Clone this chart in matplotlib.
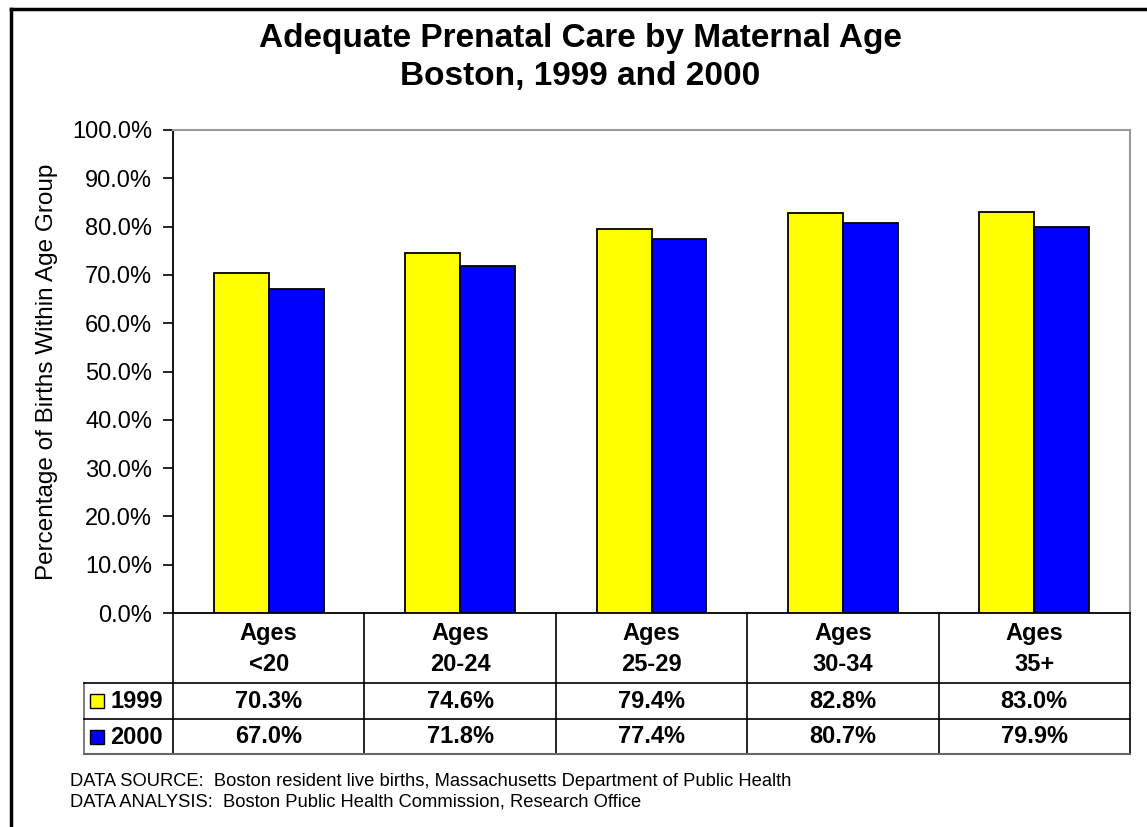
import numpy as np
import matplotlib.pyplot as plt
from matplotlib.lines import Line2D
from matplotlib.patches import Rectangle

plt.rcParams['font.family'] = ['Liberation Sans', 'DejaVu Sans']

age_groups = ['Ages\n<20', 'Ages\n20-24', 'Ages\n25-29', 'Ages\n30-34', 'Ages\n35+']
years = ['1999', '2000']
vals_1999 = [70.3, 74.6, 79.4, 82.8, 83.0]
vals_2000 = [67.0, 71.8, 77.4, 80.7, 79.9]
colors = ['#FFFF00', '#0000FF']

W, H = 1147, 827
fig = plt.figure(figsize=(W / 100, H / 100), dpi=100)

def fx(px):
    return px / W

def fy(py):
    return 1 - py / H

# outer frame (left and top edges visible)
fig.add_artist(Line2D([fx(11), fx(11)], [fy(9), 0], color='black', lw=2.5))
fig.add_artist(Line2D([fx(11), 1], [fy(9), fy(9)], color='black', lw=2.5))

ax = fig.add_axes([fx(173), fy(613), fx(1130 - 173), (613 - 130) / H])
n = len(age_groups)
x = np.arange(n) + 0.5
bw = 0.287
ax.bar(x - bw / 2, vals_1999, bw, color=colors[0], edgecolor='black', lw=1.3, zorder=3)
ax.bar(x + bw / 2, vals_2000, bw, color=colors[1], edgecolor='black', lw=1.3, zorder=3)
ax.set_xlim(0, n)
ax.set_ylim(0, 100)
ax.set_yticks(np.arange(0, 101, 10))
ax.set_yticklabels([f'{v:.1f}%' for v in np.arange(0, 101, 10)], fontsize=17)
ax.set_xticks([])
ax.tick_params(axis='y', direction='out', length=7, width=1.2, pad=8)
ax.spines['left'].set_color('black')
ax.spines['left'].set_linewidth(1.3)
ax.spines['bottom'].set_color('black')
ax.spines['bottom'].set_linewidth(1.3)
ax.spines['top'].set_color('#999999')
ax.spines['right'].set_color('#999999')
ax.spines['top'].set_linewidth(1.5)
ax.spines['right'].set_linewidth(1.5)
ax.set_ylabel('Percentage of Births Within Age Group', fontsize=17.5, labelpad=10)

# data table below the plot
lab_w = (173 - 84) / ((1130 - 173) / n)
tab = fig.add_axes([fx(84), fy(754), fx(1130 - 84), (754 - 613) / H])
tab.set_xlim(-lab_w, n)
tab.set_ylim(141, 0)
tab.axis('off')
row_edges = [0, 70, 106, 141]
# grid lines
for xe in range(0, n + 1):
    tab.plot([xe, xe], [0, 141], color='black', lw=1.2, clip_on=False)
tab.plot([-lab_w, -lab_w], [row_edges[1], 141], color='#666666', lw=1.2, clip_on=False)
for ye in row_edges[1:]:
    tab.plot([-lab_w, n], [ye, ye], color='black', lw=1.2, clip_on=False)
tab.plot([-lab_w, n], [141, 141], color='#666666', lw=1.5, clip_on=False)

for i, g in enumerate(age_groups):
    tab.text(i + 0.5, 36, g, ha='center', va='center', fontsize=17,
             fontweight='bold', linespacing=1.4)
for r, (yr, vals, c) in enumerate(zip(years, [vals_1999, vals_2000], colors)):
    yc = (row_edges[r + 1] + row_edges[r + 2]) / 2
    for i, v in enumerate(vals):
        tab.text(i + 0.5, yc, f'{v:.1f}%', ha='center', va='center',
                 fontsize=17, fontweight='bold')
    sq = 14 / ((1130 - 173) / n)
    tab.add_patch(Rectangle((-lab_w + 6 / 191.4, yc - 7), sq, 14,
                            facecolor=c, edgecolor='black', lw=1, clip_on=False))
    tab.text(-lab_w + 26 / 191.4, yc + 1, yr, ha='left', va='center',
             fontsize=17, fontweight='bold')

fig.text(fx(580), fy(38), 'Adequate Prenatal Care by Maternal Age',
         ha='center', va='center', fontsize=24, fontweight='bold')
fig.text(fx(580), fy(77), 'Boston, 1999 and 2000',
         ha='center', va='center', fontsize=24, fontweight='bold')

fig.text(fx(70), fy(781), 'DATA SOURCE:  Boston resident live births, Massachusetts Department of Public Health',
         ha='left', va='center', fontsize=13.2)
fig.text(fx(70), fy(802), 'DATA ANALYSIS:  Boston Public Health Commission, Research Office',
         ha='left', va='center', fontsize=13.2)

fig.savefig('out.png', dpi=100)
